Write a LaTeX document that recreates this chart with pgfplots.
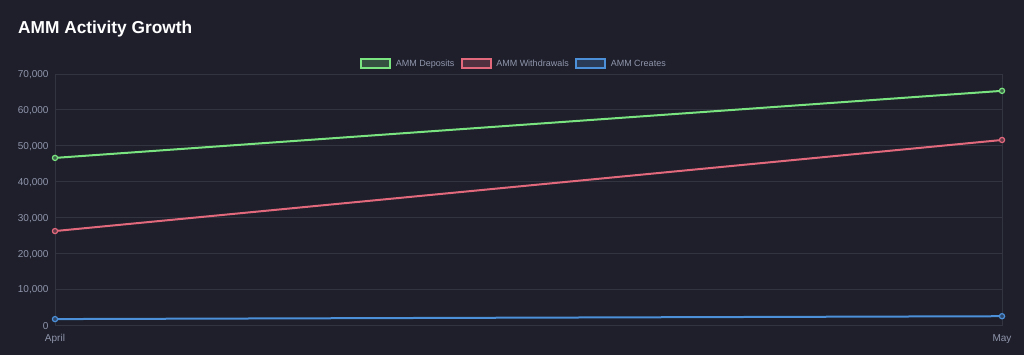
\documentclass[border=0pt]{standalone}
\usepackage{pgfplots}
\pgfplotsset{compat=1.18}
\usepackage{fontspec}
\setmainfont{Liberation Sans}
\definecolor{bg}{RGB}{30,31,43}
\definecolor{gridc}{RGB}{50,52,64}
\definecolor{tickc}{RGB}{145,150,172}
\definecolor{gline}{RGB}{122,228,128}
\definecolor{rline}{RGB}{226,104,124}
\definecolor{bline}{RGB}{76,144,218}
\begin{document}
\begin{tikzpicture}[x=1bp,y=1bp]
\fill[bg] (0,0) rectangle (1024,355);
\path[use as bounding box] (0,0) rectangle (1024,355);
\node[anchor=base west, text=white, font=\fontsize{17.3bp}{20bp}\selectfont\bfseries, inner sep=0] at (18,322) {AMM Activity Growth};
\begin{axis}[
  at={(55bp,30bp)}, anchor=south west,
  scale only axis, width=947bp, height=251bp,
  xmin=0, xmax=1, ymin=0, ymax=70000,
  xtick=data, xticklabels={April,May},
  ytick={0,10000,20000,30000,40000,50000,60000,70000},
  scaled y ticks=false,
  /pgf/number format/.cd, 1000 sep={,}, assume math mode=true, /pgfplots/.cd,
  grid=both, major grid style={gridc, line width=0.8bp},
  axis line style={gridc, line width=0.8bp},
  tick style={draw=none},
  ticklabel style={text=tickc, font=\fontsize{10bp}{12bp}\selectfont},
  yticklabel style={xshift=-3bp, yshift=-1bp},
  xticklabel style={yshift=-6bp},
  legend style={at={(0.4847,1.04)}, anchor=center, draw=none, fill=none,
    text=tickc, font=\fontsize{9bp}{11bp}\selectfont, legend columns=3,
    /tikz/every even column/.append style={column sep=4.5bp},
    /tikz/every odd column/.append style={column sep=2.5bp},
    inner sep=0pt},
  clip=false,
]
\addplot[gline, line width=2bp, mark=*, mark size=2.6bp, mark options={fill=gline!35!bg, line width=1.2bp},
  legend image code/.code={\draw[gline, fill=gline!25!bg, line width=2bp] (0bp,-4.5bp) rectangle (29bp,4.5bp);}]
  coordinates {(0,46600) (1,65300)};
\addlegendentry{AMM Deposits}
\addplot[rline, line width=2bp, mark=*, mark size=2.6bp, mark options={fill=rline!35!bg, line width=1.2bp},
  legend image code/.code={\draw[rline, fill=rline!25!bg, line width=2bp] (0bp,-4.5bp) rectangle (29bp,4.5bp);}]
  coordinates {(0,26200) (1,51600)};
\addlegendentry{AMM Withdrawals}
\addplot[bline, line width=2bp, mark=*, mark size=2.6bp, mark options={fill=bline!35!bg, line width=1.2bp},
  legend image code/.code={\draw[bline, fill=bline!25!bg, line width=2bp] (0bp,-4.5bp) rectangle (29bp,4.5bp);}]
  coordinates {(0,1650) (1,2450)};
\addlegendentry{AMM Creates}
\end{axis}
\end{tikzpicture}
\end{document}
